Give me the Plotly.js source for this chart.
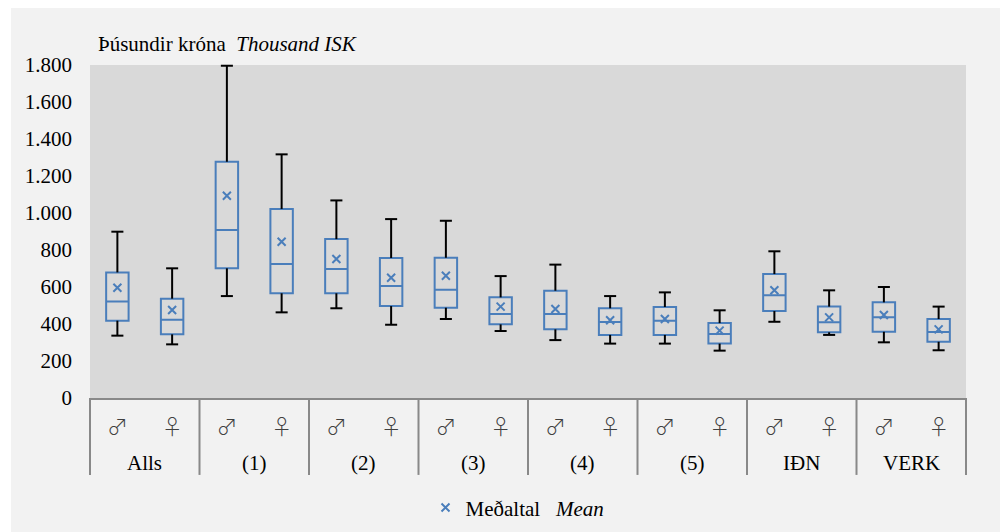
<!DOCTYPE html>
<html>
<head>
<meta charset="utf-8">
<script src="https://cdn.plot.ly/plotly-3.0.1.min.js"></script>
<style>
  html, body { margin: 0; padding: 0; background: #ffffff; }
  #chart { position: absolute; left: 11px; top: 8px; width: 989px; height: 524px; }
</style>
</head>
<body>
<div id="chart"></div>
<script>
// ---- data (thousand ISK) ----
const groups = ['Alls', '(1)', '(2)', '(3)', '(4)', '(5)', 'IÐN', 'VERK'];
const sexes = ['♂', '♀'];
const lowerWhisker = [337, 290, 551, 463, 485, 396, 427, 362, 313, 294, 294, 256, 412, 341, 301, 258];
const q1Values     = [418, 344, 701, 566, 566, 497, 488, 398, 371, 341, 341, 294, 470, 355, 358, 304];
const medianValues = [521, 423, 908, 724, 697, 605, 585, 454, 454, 411, 418, 346, 555, 409, 436, 357];
const q3Values     = [679, 537, 1277, 1022, 859, 757, 758, 544, 580, 485, 492, 405, 670, 494, 517, 427];
const upperWhisker = [899, 701, 1796, 1317, 1068, 967, 958, 659, 721, 551, 571, 474, 793, 582, 600, 494];
const meanValues   = [596, 476, 1093, 845, 751, 650, 661, 494, 481, 420, 427, 364, 582, 436, 449, 371];

const legendText = 'Meðaltal&nbsp;&nbsp; <i>Mean</i>';
const unitText = 'Þúsundir króna&nbsp; <i>Thousand ISK</i>';

// ---- positions along the category axis ----
const xLabels = [];
groups.forEach(() => sexes.forEach(s => xLabels.push(s)));
const xPos = xLabels.map((_, i) => i);

const blue = '#4a7ebb';
const serif = 'Liberation Serif, DejaVu Serif, serif';
const symFont = 'Noto Sans CJK JP, DejaVu Sans';

const zeros = q1Values.map(() => 0);

const traces = [
  {
    type: 'box',
    x: xPos,
    q1: q1Values,
    median: medianValues,
    q3: q3Values,
    lowerfence: q1Values,
    upperfence: q3Values,
    width: 0.41,
    whiskerwidth: 0,
    line: { color: blue, width: 2 },
    fillcolor: 'rgba(0,0,0,0)',
    showlegend: false,
    hoverinfo: 'skip'
  },
  {
    type: 'scatter',
    mode: 'markers',
    x: xPos,
    y: upperWhisker,
    marker: { symbol: 'line-ew', size: 8.6, color: '#000', line: { color: '#000', width: 2 } },
    error_y: {
      type: 'data', symmetric: false,
      array: zeros,
      arrayminus: upperWhisker.map((v, i) => v - q3Values[i]),
      width: 0, thickness: 2, color: '#000'
    },
    cliponaxis: false,
    showlegend: false,
    hoverinfo: 'skip'
  },
  {
    type: 'scatter',
    mode: 'markers',
    x: xPos,
    y: lowerWhisker,
    marker: { symbol: 'line-ew', size: 8.6, color: '#000', line: { color: '#000', width: 2 } },
    error_y: {
      type: 'data', symmetric: false,
      array: q1Values.map((v, i) => v - lowerWhisker[i]),
      arrayminus: zeros,
      width: 0, thickness: 2, color: '#000'
    },
    cliponaxis: false,
    showlegend: false,
    hoverinfo: 'skip'
  },
  {
    type: 'scatter',
    mode: 'markers',
    name: legendText,
    x: xPos,
    y: meanValues,
    marker: { symbol: 'x-thin', size: 8, color: blue, line: { color: blue, width: 2 } },
    cliponaxis: false,
    showlegend: true
  }
];

// group labels and dividers
const annotations = groups.map((g, k) => ({
  text: g,
  xref: 'x', yref: 'paper',
  x: k * sexes.length + (sexes.length - 1) / 2,
  y: 0, yanchor: 'middle', yshift: -65,
  showarrow: false,
  font: { family: serif, size: 21, color: '#000' }
}));
annotations.push({
  text: unitText,
  xref: 'paper', yref: 'paper',
  x: 0, y: 1,
  xanchor: 'left', yanchor: 'middle',
  xshift: 6, yshift: 21,
  showarrow: false,
  font: { family: serif, size: 21, color: '#000' }
});

const shapes = [];
for (let k = 0; k <= groups.length; k++) {
  shapes.push({
    type: 'line', xref: 'paper', yref: 'paper',
    x0: k / groups.length, x1: k / groups.length,
    y0: 0, y1: -0.231,
    line: { color: '#898989', width: 2 }
  });
}

const layout = {
  width: 989,
  height: 524,
  margin: { l: 79, r: 34, t: 57, b: 134, autoexpand: false },
  paper_bgcolor: '#f2f2f2',
  plot_bgcolor: '#d9d9d9',
  separators: ',.',
  font: { family: serif, size: 21, color: '#000' },
  showlegend: true,
  legend: {
    orientation: 'h',
    x: 0.383, xanchor: 'left',
    y: -0.33, yanchor: 'middle',
    bgcolor: 'rgba(0,0,0,0)',
    font: { family: serif, size: 21, color: '#000' }
  },
  xaxis: {
    range: [-0.5, xPos.length - 0.5],
    tickmode: 'array',
    tickvals: xPos,
    ticktext: xLabels,
    showline: true,
    linecolor: '#898989',
    linewidth: 2,
    ticks: '',
    showgrid: false,
    zeroline: false,
    automargin: false,
    ticklabelstandoff: 9,
    tickfont: { family: symFont, size: 21, color: '#404040', weight: 300 }
  },
  yaxis: {
    range: [0, 1800],
    dtick: 200,
    tick0: 0,
    showgrid: false,
    zeroline: false,
    showline: false,
    ticks: '',
    automargin: false,
    separatethousands: true,
    ticklabelstandoff: 17,
    tickfont: { family: serif, size: 21, color: '#000' }
  },
  annotations: annotations,
  shapes: shapes
};

Plotly.newPlot('chart', traces, layout, { displayModeBar: false, staticPlot: true });
</script>
</body>
</html>
